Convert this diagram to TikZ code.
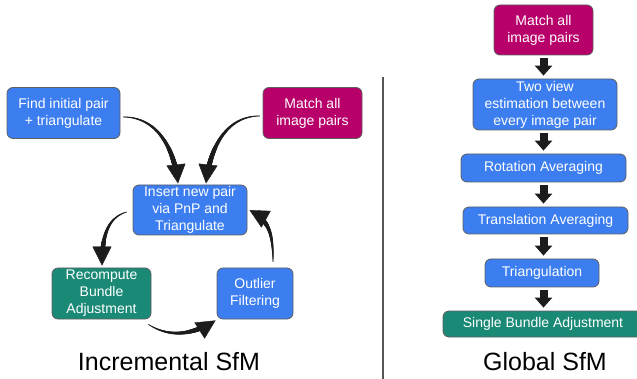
\documentclass[tikz,border=0pt]{standalone}
\usepackage{fontspec}
\setmainfont{Liberation Sans}
\usetikzlibrary{arrows.meta,decorations.markings}
\definecolor{boxblue}{RGB}{60,126,240}
\definecolor{boxmagenta}{RGB}{184,0,106}
\definecolor{boxteal}{RGB}{26,138,118}
\definecolor{boxedge}{RGB}{95,95,95}
\definecolor{divider}{RGB}{85,85,85}
\definecolor{ink}{RGB}{28,28,28}
\begin{document}
\begin{tikzpicture}[x=1pt,y=-1pt,
  box/.style={draw=boxedge, line width=0.8pt, rounded corners=6pt, text=white,
    align=center, inner sep=0pt, font=\fontsize{14}{17}\selectfont},
  bluebox/.style={box, fill=boxblue},
  magentabox/.style={box, fill=boxmagenta},
  tealbox/.style={box, fill=boxteal},
  % brush-like connector: thin at the start, widening towards the head
  curvy/.style={postaction={decorate}, decoration={markings,
    mark=between positions 0 and -15pt step 0.4pt with {
      \pgfmathsetmacro\brushr{0.4+2.6*\pgfkeysvalueof{/pgf/decoration/mark info/distance from start}/\pgfdecoratedpathlength}
      \fill[ink] (0,0) circle[radius=\brushr pt];},
    mark=at position 1 with {\arrow[ink]{Triangle[length=19pt,width=19pt]}}}},
  blockarrow/.style={draw=ink, line width=8pt, -{Triangle[length=10pt,width=17pt]},
    shorten <=3pt, shorten >=3pt},
  title/.style={anchor=base, font=\fontsize{25}{30}\selectfont}
]
\useasboundingbox (0,0) rectangle (637,379);
\clip (0,0) rectangle (637,379);

% ---- incremental pipeline ----
\node[bluebox, minimum width=113pt, minimum height=51pt] (find) at (63.5,113)
  {Find initial pair\\+ triangulate};
\node[magentabox, minimum width=99pt, minimum height=51pt] (matchL) at (312.5,113)
  {Match all\\image pairs};
\node[bluebox, minimum width=114pt, minimum height=50pt] (insert) at (190,210)
  {Insert new pair\\via PnP and\\Triangulate};
\node[tealbox, minimum width=99pt, minimum height=51pt] (recomp) at (101.5,293.5)
  {Recompute\\Bundle\\Adjustment};
\node[bluebox, minimum width=76pt, minimum height=51pt] (outlier) at (255,293.5)
  {Outlier\\Filtering};

\path[curvy] ([shift={(3,4)}]find.east) .. controls +(32,0) and +(-4,-38) ..
  ([shift={(-12,-1)}]insert.north);
\path[curvy] ([shift={(-3,3)}]matchL.west) .. controls +(-32,0) and +(4,-38) ..
  ([shift={(16,-1)}]insert.north);
\path[curvy] ([shift={(-6,2)}]insert.west) .. controls +(-20,6) and +(0,-28) ..
  ([shift={(0.5,-2)}]recomp.north);
\path[curvy] ([shift={(-3,5)}]recomp.south east) .. controls +(22,14) and +(-22,14) ..
  ([shift={(-1,1)}]outlier.south west);
\path[curvy] ([shift={(18,-6)}]outlier.north) .. controls +(0,-32) and +(18,10) ..
  ([shift={(2,0)}]insert.east);

\node[title] (inctitle) at (169,370) {Incremental SfM};

% ---- divider ----
\coordinate (divtop) at (383,77);
\coordinate (divbot) at (383,379);
\draw[divider, line width=2.8pt] (divtop) -- (divbot);

% ---- global pipeline ----
\node[magentabox, minimum width=99pt, minimum height=50pt] (matchR) at (543.5,30)
  {Match all\\image pairs};
\node[bluebox, minimum width=144pt, minimum height=51pt] (twoview) at (545,104.5)
  {Two view\\estimation between\\every image pair};
\node[bluebox, minimum width=165pt, minimum height=28pt] (rot) at (543.5,168)
  {Rotation Averaging};
\node[bluebox, minimum width=165pt, minimum height=27pt] (trans) at (545.5,220.5)
  {Translation Averaging};
\node[bluebox, minimum width=114pt, minimum height=28pt] (tri) at (542,273)
  {Triangulation};
\node[tealbox, minimum width=200pt, minimum height=26pt] (single) at (543,324)
  {Single Bundle Adjustment};

\draw[blockarrow] (matchR.south) -- (matchR.south |- twoview.north);
\draw[blockarrow] (matchR.south |- twoview.south) -- (matchR.south |- rot.north);
\draw[blockarrow] (matchR.south |- rot.south) -- (matchR.south |- trans.north);
\draw[blockarrow] (matchR.south |- trans.south) -- (matchR.south |- tri.north);
\draw[blockarrow] (matchR.south |- tri.south) -- (matchR.south |- single.north);

\node[title] (globtitle) at (545,370) {Global SfM};
\end{tikzpicture}
\end{document}
